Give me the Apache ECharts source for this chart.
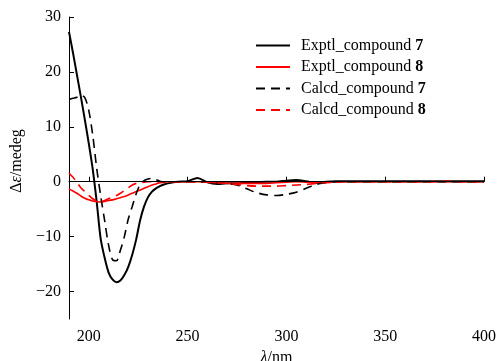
<!DOCTYPE html>
<html>
<head>
<meta charset="utf-8">
<script src="https://cdn.jsdelivr.net/npm/echarts@6/dist/echarts.min.js"></script>
<style>html,body{margin:0;padding:0;background:#fff}#c{width:497px;height:361px}</style>
</head>
<body>
<div id="c"></div>
<script>
const wavelength = [190,192,194,196,198,200,202,204,206,208,210,212,214,216,218,220,222,224,226,228,230,232,234,236,238,240,245,250,255,260,265,270,275,280,285,290,295,300,305,310,315,320,325,330,340,350,360,370,380,390,400];
const exptl7 = [27.3,23.5,19.5,15.5,11.3,7,2.3,-3.6,-10.3,-13.8,-16.5,-17.8,-18.3,-18,-17,-15.5,-13.3,-10.5,-7,-4.5,-2.8,-1.8,-1.2,-0.8,-0.5,-0.3,0,0.1,0.7,-0.1,-0.4,-0.3,-0.3,-0.2,-0.1,0,0,0.2,0.3,0.1,-0.2,0,0.1,0.1,0.1,0.1,0.1,0.1,0.1,0.1,0.1];
const exptl8 = [-1.3,-1.7,-2.1,-2.6,-3,-3.3,-3.5,-3.6,-3.7,-3.6,-3.4,-3.3,-3.1,-2.9,-2.7,-2.4,-2.1,-1.8,-1.5,-1.2,-0.9,-0.6,-0.4,-0.2,-0.1,0,0,0,0,-0.1,-0.2,-0.3,-0.3,-0.3,-0.3,-0.3,-0.2,-0.1,0,-0.1,-0.2,-0.1,0,0,0,0,0,0,0,0,0];
const calcd7 = [15,15.2,15.4,15.8,15.3,13,8.5,2.5,-2.5,-7,-11.5,-14.2,-14.4,-12.5,-10,-6.8,-4.5,-2.2,-0.5,0.2,0.5,0.6,0.4,0.1,0,0,0,0,0,-0.1,-0.2,-0.3,-0.6,-1.3,-2,-2.4,-2.5,-2.3,-1.9,-1.2,-0.5,-0.2,0,0,0,0,0,0,0,0,0];
const calcd8 = [1.6,0.8,-0.1,-1.1,-1.8,-2.5,-3.1,-3.5,-3.6,-3.4,-3.1,-2.8,-2.5,-2.1,-1.6,-1.1,-0.6,-0.3,-0.2,-0.1,0,0,0,0,0,0,0,0,0,-0.1,-0.2,-0.3,-0.5,-0.7,-0.8,-0.8,-0.8,-0.7,-0.6,-0.5,-0.3,-0.2,-0.1,0,0,0,0,0,0.1,0,0];
const xTicks = [200,250,300,350,400];
const yTicks = [-20,-10,0,10,20,30];
const seriesNames = ['Exptl_compound 7','Exptl_compound 8','Calcd_compound 7','Calcd_compound 8'];

const font = '"Liberation Serif", "Times New Roman", serif';
const pair = arr => wavelength.map((w,i)=>[w,arr[i]]);
const mk = (name, arr, color, type, width) => ({
  name, type:'line', data: pair(arr), symbol:'none', smooth:0.3,
  lineStyle:{color, type, width}, itemStyle:{color}
});
const dash = [9,6];
const chart = echarts.init(document.getElementById('c'));
const s0 = mk(seriesNames[0], exptl7, '#000', 'solid', 2);
s0.markLine = {silent:true, symbol:'none', label:{show:false}, lineStyle:{color:'#000', type:'solid', width:1}, data:[{yAxis:0}]};
chart.setOption({
  animation:false,
  grid:{left:69, right:13, top:17, bottom:42, containLabel:false, outerBoundsMode:'none'},
  legend:{
    orient:'vertical', left:255, top:37.5, padding:0, itemWidth:34, itemHeight:14, itemGap:5.5,
    data: seriesNames,
    itemStyle:{opacity:0},
    formatter: n => { const p = n.split(' '); return p[0] + ' {b|' + p[1] + '}'; },
    textStyle:{fontFamily:font, fontSize:16, color:'#000', padding:[0,0,0,6],
      rich:{b:{fontFamily:font, fontSize:16, fontWeight:'bold', color:'#000'}}}
  },
  xAxis:{
    type:'value', min:190, max:400,
    name:'{i|λ}/nm', nameLocation:'middle', nameGap:30,
    nameTextStyle:{fontFamily:font, fontSize:16, color:'#000', rich:{i:{fontFamily:font, fontSize:16, fontStyle:'italic', color:'#000'}}},
    axisLine:{show:true, lineStyle:{color:'#000', width:1}},
    axisTick:{show:true, inside:true, length:5, customValues:xTicks, lineStyle:{color:'#000'}},
    axisLabel:{customValues:xTicks, fontFamily:font, fontSize:16, color:'#000', margin:10},
    splitLine:{show:false}
  },
  yAxis:{
    type:'value', min:-25, max:30,
    name:'Δ{i|ε}/medeg', nameLocation:'middle', nameGap:44, nameRotate:90,
    nameTextStyle:{fontFamily:font, fontSize:16, color:'#000', padding:[0,0,0,14], rich:{i:{fontFamily:font, fontSize:16, fontStyle:'italic', color:'#000'}}},
    axisLine:{show:true, lineStyle:{color:'#000', width:1}},
    axisTick:{show:true, inside:true, length:5, customValues:yTicks, lineStyle:{color:'#000'}},
    axisLabel:{customValues:yTicks, fontFamily:font, fontSize:16, color:'#000', margin:8,
      formatter: v => String(v).replace('-', '\u2212')},
    splitLine:{show:false}
  },
  series:[
    s0,
    mk(seriesNames[1], exptl8, '#ff0000', 'solid', 1.6),
    mk(seriesNames[2], calcd7, '#000', dash, 1.6),
    mk(seriesNames[3], calcd8, '#ff0000', dash, 1.6)
  ]
});
</script>
</body>
</html>
